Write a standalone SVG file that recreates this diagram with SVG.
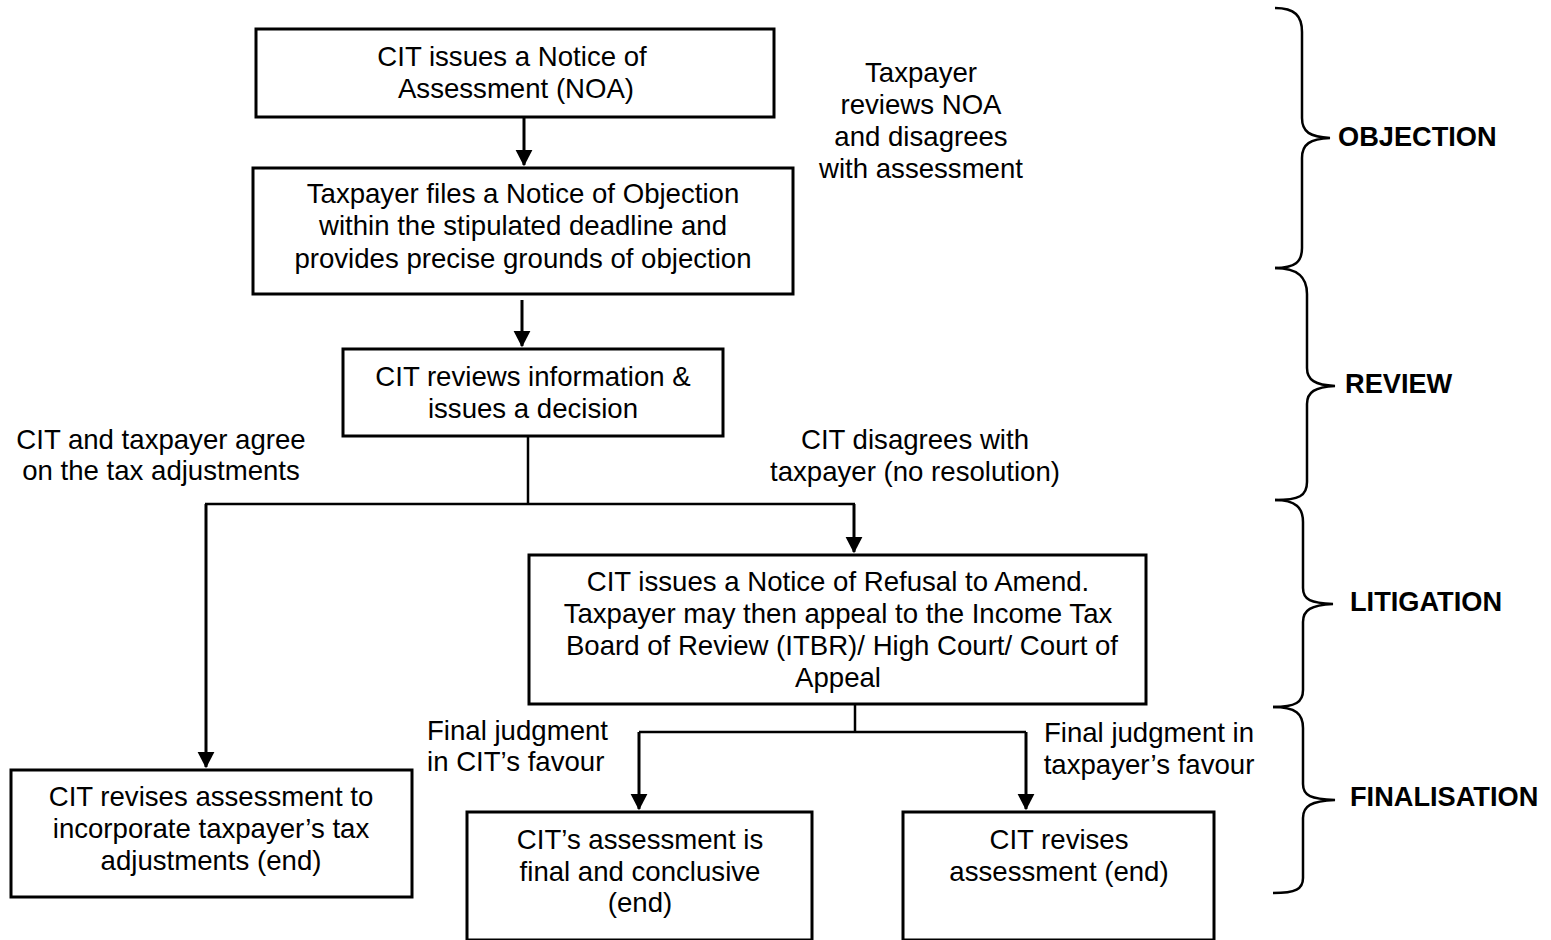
<svg xmlns="http://www.w3.org/2000/svg" width="1551" height="940" viewBox="0 0 1551 940">
<style>
.box{fill:#fff;stroke:#000;stroke-width:3}
.t{font-family:"Liberation Sans",Arial,sans-serif;font-size:27.6px;fill:#000;text-anchor:middle}
.l{text-anchor:start}
.b{font-weight:bold;text-anchor:start;font-size:27.2px}
.c{fill:none;stroke:#000;stroke-width:3}
.c2{fill:none;stroke:#000;stroke-width:2.5}
.br{fill:none;stroke:#000;stroke-width:2.5}
</style>
<defs>
<marker id="ah" markerWidth="6" markerHeight="6" refX="5" refY="3" orient="auto" markerUnits="strokeWidth">
<path d="M0,0.2 L5.4,3 L0,5.8 Z" fill="#000"/>
</marker>
</defs>
<rect width="1551" height="940" fill="#fff"/>
<g id="connectors">
<line class="c" x1="524" y1="117" x2="524" y2="165" marker-end="url(#ah)"/>
<line class="c" x1="522" y1="300" x2="522" y2="346" marker-end="url(#ah)"/>
<line class="c2" x1="528" y1="436" x2="528" y2="504"/>
<line class="c2" x1="205" y1="504" x2="855" y2="504"/>
<line class="c" x1="206" y1="504" x2="206" y2="767" marker-end="url(#ah)"/>
<line class="c" x1="854" y1="504" x2="854" y2="552" marker-end="url(#ah)"/>
<line class="c2" x1="855" y1="704" x2="855" y2="732"/>
<line class="c2" x1="639" y1="732" x2="1026" y2="732"/>
<line class="c" x1="639" y1="732" x2="639" y2="809" marker-end="url(#ah)"/>
<line class="c" x1="1026" y1="732" x2="1026" y2="809" marker-end="url(#ah)"/>
</g>
<g id="n1">
<rect class="box" x="256" y="29" width="518" height="88"/>
<text class="t" x="512" y="66">CIT issues a Notice of</text>
<text class="t" x="516" y="98">Assessment (NOA)</text>
</g>
<g id="n2">
<rect class="box" x="253" y="168" width="540" height="126"/>
<text class="t" x="523" y="203">Taxpayer files a Notice of Objection</text>
<text class="t" x="523" y="235">within the stipulated deadline and</text>
<text class="t" x="523" y="268">provides precise grounds of objection</text>
</g>
<g id="n3">
<rect class="box" x="343" y="349" width="380" height="87"/>
<text class="t" x="533" y="386">CIT reviews information &amp;</text>
<text class="t" x="533" y="418">issues a decision</text>
</g>
<g id="n4">
<rect class="box" x="529" y="555" width="617" height="149"/>
<text class="t" x="838" y="591">CIT issues a Notice of Refusal to Amend.</text>
<text class="t" x="838" y="623">Taxpayer may then appeal to the Income Tax</text>
<text class="t" x="842" y="655">Board of Review (ITBR)/ High Court/ Court of</text>
<text class="t" x="838" y="687">Appeal</text>
</g>
<g id="n5">
<rect class="box" x="11" y="770" width="401" height="127"/>
<text class="t" x="211" y="806">CIT revises assessment to</text>
<text class="t" x="211" y="838">incorporate taxpayer’s tax</text>
<text class="t" x="211" y="870">adjustments (end)</text>
</g>
<g id="n6">
<rect class="box" x="467" y="812" width="345" height="128"/>
<text class="t" x="640" y="849">CIT’s assessment is</text>
<text class="t" x="640" y="881">final and conclusive</text>
<text class="t" x="640" y="912">(end)</text>
</g>
<g id="n7">
<rect class="box" x="903" y="812" width="311" height="128"/>
<text class="t" x="1059" y="849">CIT revises</text>
<text class="t" x="1059" y="881">assessment (end)</text>
</g>
<g id="labels">
<text class="t" x="921" y="82">Taxpayer</text>
<text class="t" x="921" y="114">reviews NOA</text>
<text class="t" x="921" y="146">and disagrees</text>
<text class="t" x="921" y="178">with assessment</text>
<text class="t" x="161" y="449">CIT and taxpayer agree</text>
<text class="t" x="161" y="480">on the tax adjustments</text>
<text class="t" x="915" y="449">CIT disagrees with</text>
<text class="t" x="915" y="481">taxpayer (no resolution)</text>
<text class="t l" x="427" y="740">Final judgment</text>
<text class="t l" x="427" y="771">in CIT’s favour</text>
<text class="t" x="1149" y="742">Final judgment in</text>
<text class="t" x="1149" y="774">taxpayer’s favour</text>
</g>
<g id="phases">
<path class="br" d="M1275,8 C1295,8 1302,16 1302,32 L1302,118 C1302,132 1310,137 1330,138 C1310,139 1302,144 1302,158 L1302,248 C1302,262 1295,268 1275,268"/>
<path class="br" d="M1275,268 C1299,268 1307,278 1307,294 L1307,368 C1307,380 1315,385 1335,386 C1315,387 1307,392 1307,404 L1307,482 C1307,496 1299,500 1275,500"/>
<path class="br" d="M1275,500 C1296,500 1303,508 1303,522 L1303,588 C1303,600 1311,603 1333,604 C1311,605 1303,610 1303,622 L1303,690 C1303,702 1296,707 1273,707"/>
<path class="br" d="M1273,707 C1296,707 1303,714 1303,728 L1303,784 C1303,796 1311,799 1335,800 C1311,801 1303,806 1303,818 L1303,878 C1303,889 1296,893 1273,893"/>
<text class="t b" x="1338" y="146">OBJECTION</text>
<text class="t b" x="1345" y="393">REVIEW</text>
<text class="t b" x="1350" y="611">LITIGATION</text>
<text class="t b" x="1350" y="806">FINALISATION</text>
</g>
</svg>
